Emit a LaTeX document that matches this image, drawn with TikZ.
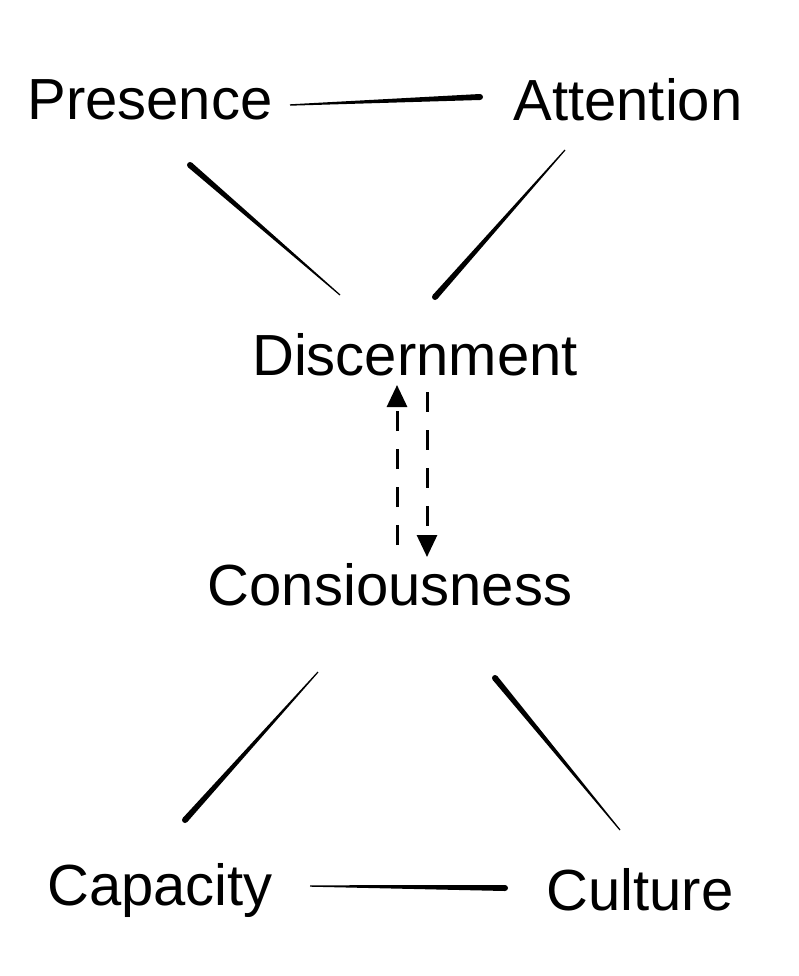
\documentclass[tikz,border=0pt]{standalone}
\usepackage{fontspec}
\setmainfont{Liberation Sans}
\usetikzlibrary{calc,arrows.meta}
\tikzset{
  word/.style={inner sep=0pt, font=\fontsize{58}{68}\selectfont},
  dashlink/.style={line width=3pt, dash pattern=on 20pt off 18pt,
    -{Triangle[length=22pt,width=20pt]}},
}
\newcommand{\taper}[4]{%
  \fill ($(#1)!#3!90:(#2)$) -- ($(#2)!#4!-90:(#1)$) -- ($(#2)!#4!90:(#1)$)
     -- ($(#1)!#3!-90:(#2)$) -- cycle;
  \fill (#1) circle[radius=#3];}
\begin{document}
\begin{tikzpicture}[x=1pt,y=-1pt]
\useasboundingbox[fill=white] (0,0) rectangle (798,976);
\node[word] (pres) at (150,100) {Presence};
\node[word] (att)  at (628,100) {Attention};
\node[word] (disc) at (415,355) {Discernment};
\node[word] (cons) at (390,585) {Consiousness};
\node[word] (cap)  at (160,890) {Capacity};
\node[word] (cul)  at (640,890) {Culture};
% connector end points
\coordinate (pa1) at ([shift={(140,5)}]pres.center);
\coordinate (pa2) at ([shift={(-148,-3)}]att.center);
\coordinate (pd1) at ([shift={(40,65)}]pres.center);
\coordinate (pd2) at ([shift={(-75,-60)}]disc.center);
\coordinate (ad1) at ([shift={(20,-58)}]disc.center);
\coordinate (ad2) at ([shift={(-63,50)}]att.center);
\coordinate (cc1) at ([shift={(25,-70)}]cap.center);
\coordinate (cc2) at ([shift={(-72,87)}]cons.center);
\coordinate (cu1) at ([shift={(105,93)}]cons.center);
\coordinate (cu2) at ([shift={(-20,-60)}]cul.center);
\coordinate (kc1) at ([shift={(-135,-2)}]cul.center);
\coordinate (kc2) at ([shift={(150,-4)}]cap.center);
\taper{pa2}{pa1}{3pt}{0.7pt}
\taper{pd1}{pd2}{3pt}{0.6pt}
\taper{ad1}{ad2}{3pt}{0.6pt}
\taper{cc1}{cc2}{3pt}{0.6pt}
\taper{cu1}{cu2}{3pt}{0.6pt}
\taper{kc1}{kc2}{3pt}{0.7pt}
% dashed arrows
\draw[dashlink] ([shift={(7,-40)}]cons.center) -- ([shift={(-18,30)}]disc.center);
\draw[dashlink] ([shift={(12,37)}]disc.center) -- ([shift={(37,-28)}]cons.center);
\end{tikzpicture}
\end{document}
